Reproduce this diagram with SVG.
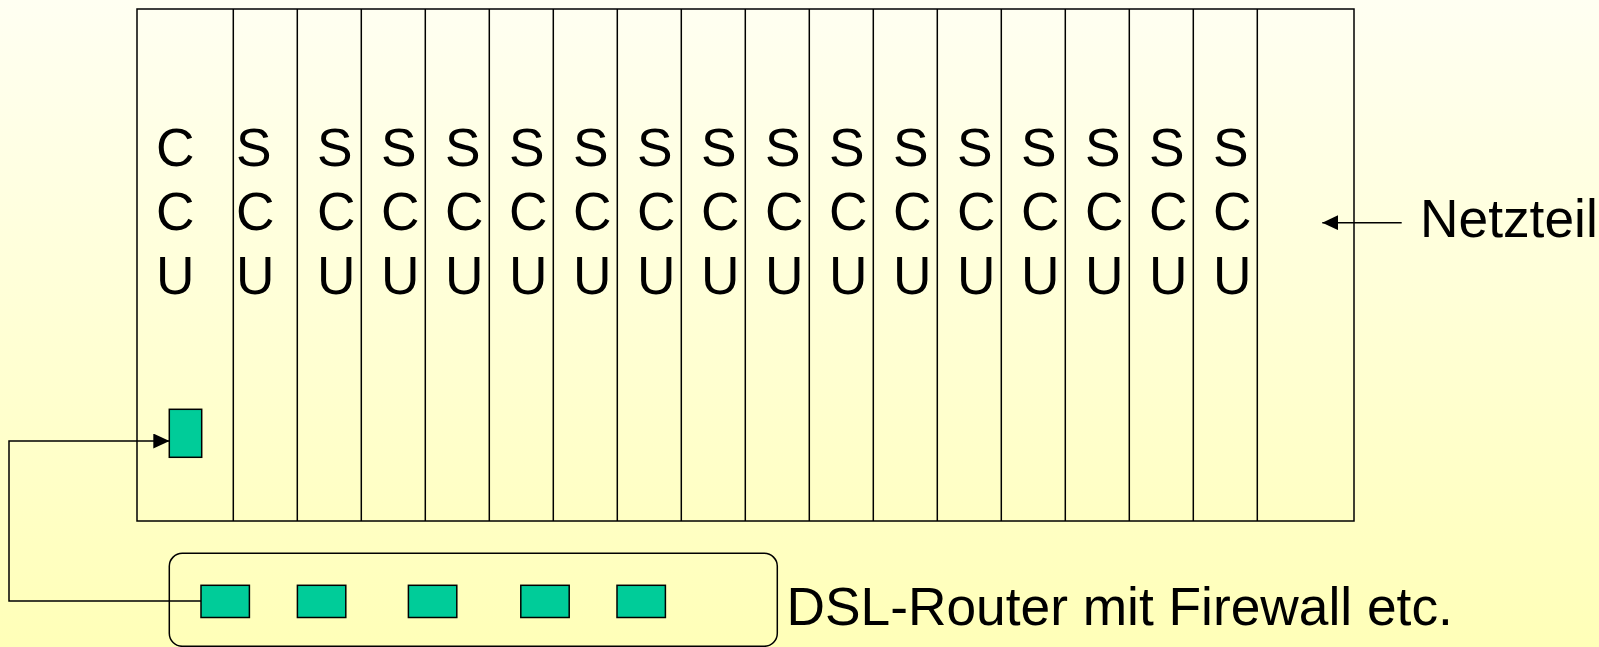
<svg xmlns="http://www.w3.org/2000/svg" width="1599" height="647" viewBox="0 0 1599 647">
<defs>
<linearGradient id="bg" x1="0" y1="0" x2="0" y2="1">
<stop offset="0" stop-color="#FFFFF2"/>
<stop offset="1" stop-color="#FFFFB8"/>
</linearGradient>
<marker id="arr" viewBox="0 0 16 15" refX="16" refY="7.5" markerWidth="16" markerHeight="15" markerUnits="userSpaceOnUse" orient="auto">
<path d="M0,0 L16,7.5 L0,15 Z" fill="#000"/>
</marker>
<style>
.ln{fill:none;stroke:#000;stroke-width:1.5}
.port{fill:#00CC99;stroke:#000;stroke-width:1.5}
.t{font-family:"Liberation Sans",Arial,sans-serif;font-size:53.3px;fill:#000}
</style>
</defs>
<rect x="0" y="0" width="1599" height="647" fill="url(#bg)"/>
<g id="rack">
<rect class="ln" x="137" y="9" width="1217" height="512"/>
<path class="ln" d="M233.3,9V521M297.3,9V521M361.3,9V521M425.3,9V521M489.3,9V521M553.3,9V521M617.3,9V521M681.3,9V521M745.3,9V521M809.3,9V521M873.3,9V521M937.3,9V521M1001.3,9V521M1065.3,9V521M1129.3,9V521M1193.3,9V521M1257.3,9V521"/>
</g>
<g id="ccu">
<text class="t" x="156" y="166">C</text>
<text class="t" x="156" y="230">C</text>
<text class="t" x="156" y="294">U</text>
<rect class="port" x="169.3" y="409.3" width="32.4" height="48"/>
</g>
<g id="scu">
<text class="t" x="236" y="166">S</text><text class="t" x="236" y="230">C</text><text class="t" x="236" y="294">U</text>
<text class="t" x="317" y="166">S</text><text class="t" x="317" y="230">C</text><text class="t" x="317" y="294">U</text>
<text class="t" x="381" y="166">S</text><text class="t" x="381" y="230">C</text><text class="t" x="381" y="294">U</text>
<text class="t" x="445" y="166">S</text><text class="t" x="445" y="230">C</text><text class="t" x="445" y="294">U</text>
<text class="t" x="509" y="166">S</text><text class="t" x="509" y="230">C</text><text class="t" x="509" y="294">U</text>
<text class="t" x="573" y="166">S</text><text class="t" x="573" y="230">C</text><text class="t" x="573" y="294">U</text>
<text class="t" x="637" y="166">S</text><text class="t" x="637" y="230">C</text><text class="t" x="637" y="294">U</text>
<text class="t" x="701" y="166">S</text><text class="t" x="701" y="230">C</text><text class="t" x="701" y="294">U</text>
<text class="t" x="765" y="166">S</text><text class="t" x="765" y="230">C</text><text class="t" x="765" y="294">U</text>
<text class="t" x="829" y="166">S</text><text class="t" x="829" y="230">C</text><text class="t" x="829" y="294">U</text>
<text class="t" x="893" y="166">S</text><text class="t" x="893" y="230">C</text><text class="t" x="893" y="294">U</text>
<text class="t" x="957" y="166">S</text><text class="t" x="957" y="230">C</text><text class="t" x="957" y="294">U</text>
<text class="t" x="1021" y="166">S</text><text class="t" x="1021" y="230">C</text><text class="t" x="1021" y="294">U</text>
<text class="t" x="1085" y="166">S</text><text class="t" x="1085" y="230">C</text><text class="t" x="1085" y="294">U</text>
<text class="t" x="1149" y="166">S</text><text class="t" x="1149" y="230">C</text><text class="t" x="1149" y="294">U</text>
<text class="t" x="1213" y="166">S</text><text class="t" x="1213" y="230">C</text><text class="t" x="1213" y="294">U</text>
</g>
<g id="netzteil">
<text class="t" x="1420" y="236.5">Netzteil</text>
</g>
<g id="router">
<rect class="ln" x="169.3" y="553.3" width="608" height="93" rx="13" ry="13"/>
<rect class="port" x="201" y="585.3" width="48.4" height="32.2"/>
<rect class="port" x="297.4" y="585.3" width="48.4" height="32.2"/>
<rect class="port" x="408.4" y="585.3" width="48.4" height="32.2"/>
<rect class="port" x="520.8" y="585.3" width="48.4" height="32.2"/>
<rect class="port" x="617" y="585.3" width="48.4" height="32.2"/>
<text class="t" x="786.5" y="625">DSL-Router mit Firewall etc.</text>
</g>
<g id="connectors">
<path class="ln" d="M201,601H9V441H169.3" marker-end="url(#arr)"/>
<path class="ln" d="M1401.7,222.7H1322.3" marker-end="url(#arr)"/>
</g>
</svg>
